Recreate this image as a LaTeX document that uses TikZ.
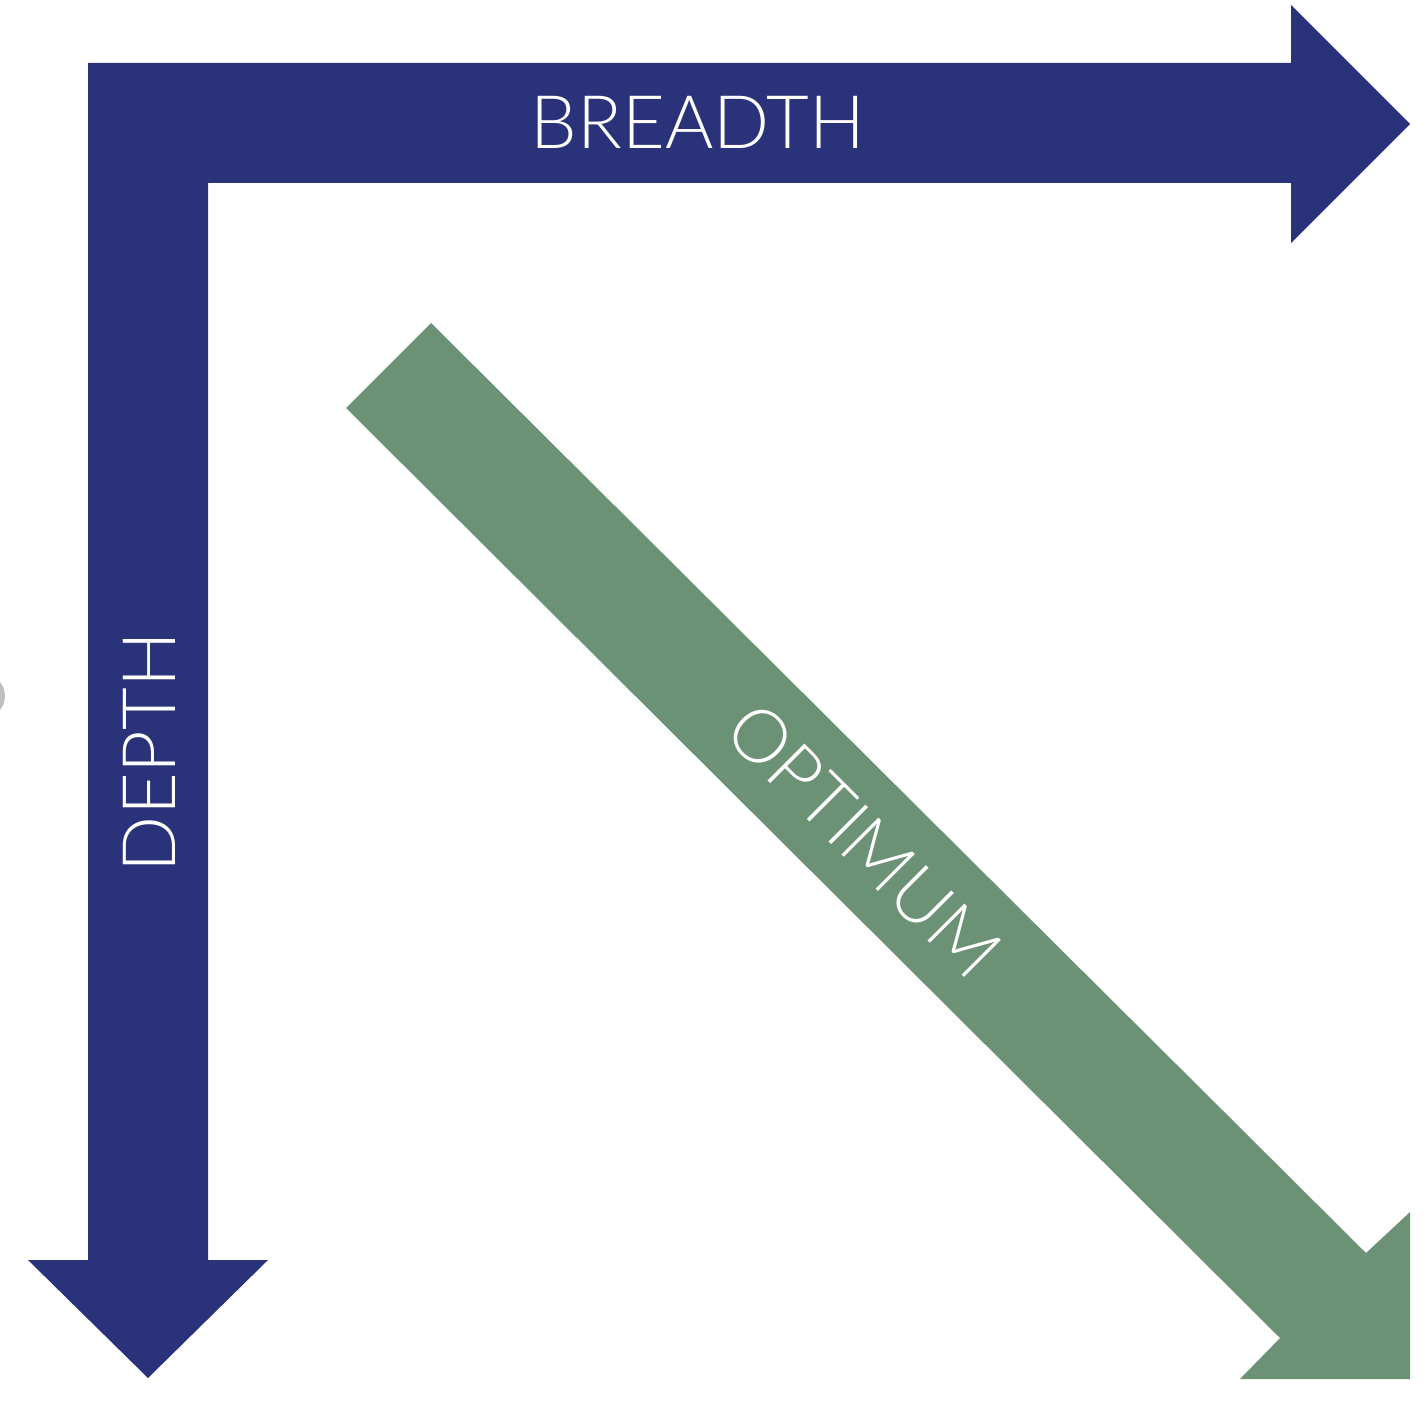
\documentclass[tikz,border=0pt]{standalone}
\usepackage{fontspec}
\setmainfont{Lato Light}
\definecolor{depthblue}{RGB}{42,51,122}
\definecolor{optgreen}{RGB}{108,146,118}
\begin{document}
\begin{tikzpicture}[scale=0.1]
\tikzset{every node/.style={inner sep=0pt, text=white, font=\fontsize{21}{25}\selectfont}}
\useasboundingbox (0,0) rectangle (142.6,-140);
% blue L arrow
\fill [depthblue] (8.8,-6.3) -- (129.1,-6.3) -- (129.1,-0.5) -- (141,-12.4) -- (129.1,-24.3) -- (129.1,-18.3) -- (20.8,-18.3) -- (20.8,-126) -- (26.8,-126) -- (14.8,-137.8) -- (2.8,-126) -- (8.8,-126) -- cycle;
% green arrow
\fill [optgreen] (43.1,-32.3) -- (136.6,-125.3) -- (141,-121.2) -- (141,-137.9) -- (124,-137.9) -- (128,-133.8) -- (34.6,-40.8) -- cycle;
\fill [gray!50] (-1.7,-69.6) circle (2.2);
\node (breadth) at (69.8,-12.2) {BREADTH};
\node [rotate=90] (depth) at (14.9,-75.2) {DEPTH};
\node [rotate=-45] (optimum) at (86.4,-84) {OPTIMUM};
\end{tikzpicture}
\end{document}
